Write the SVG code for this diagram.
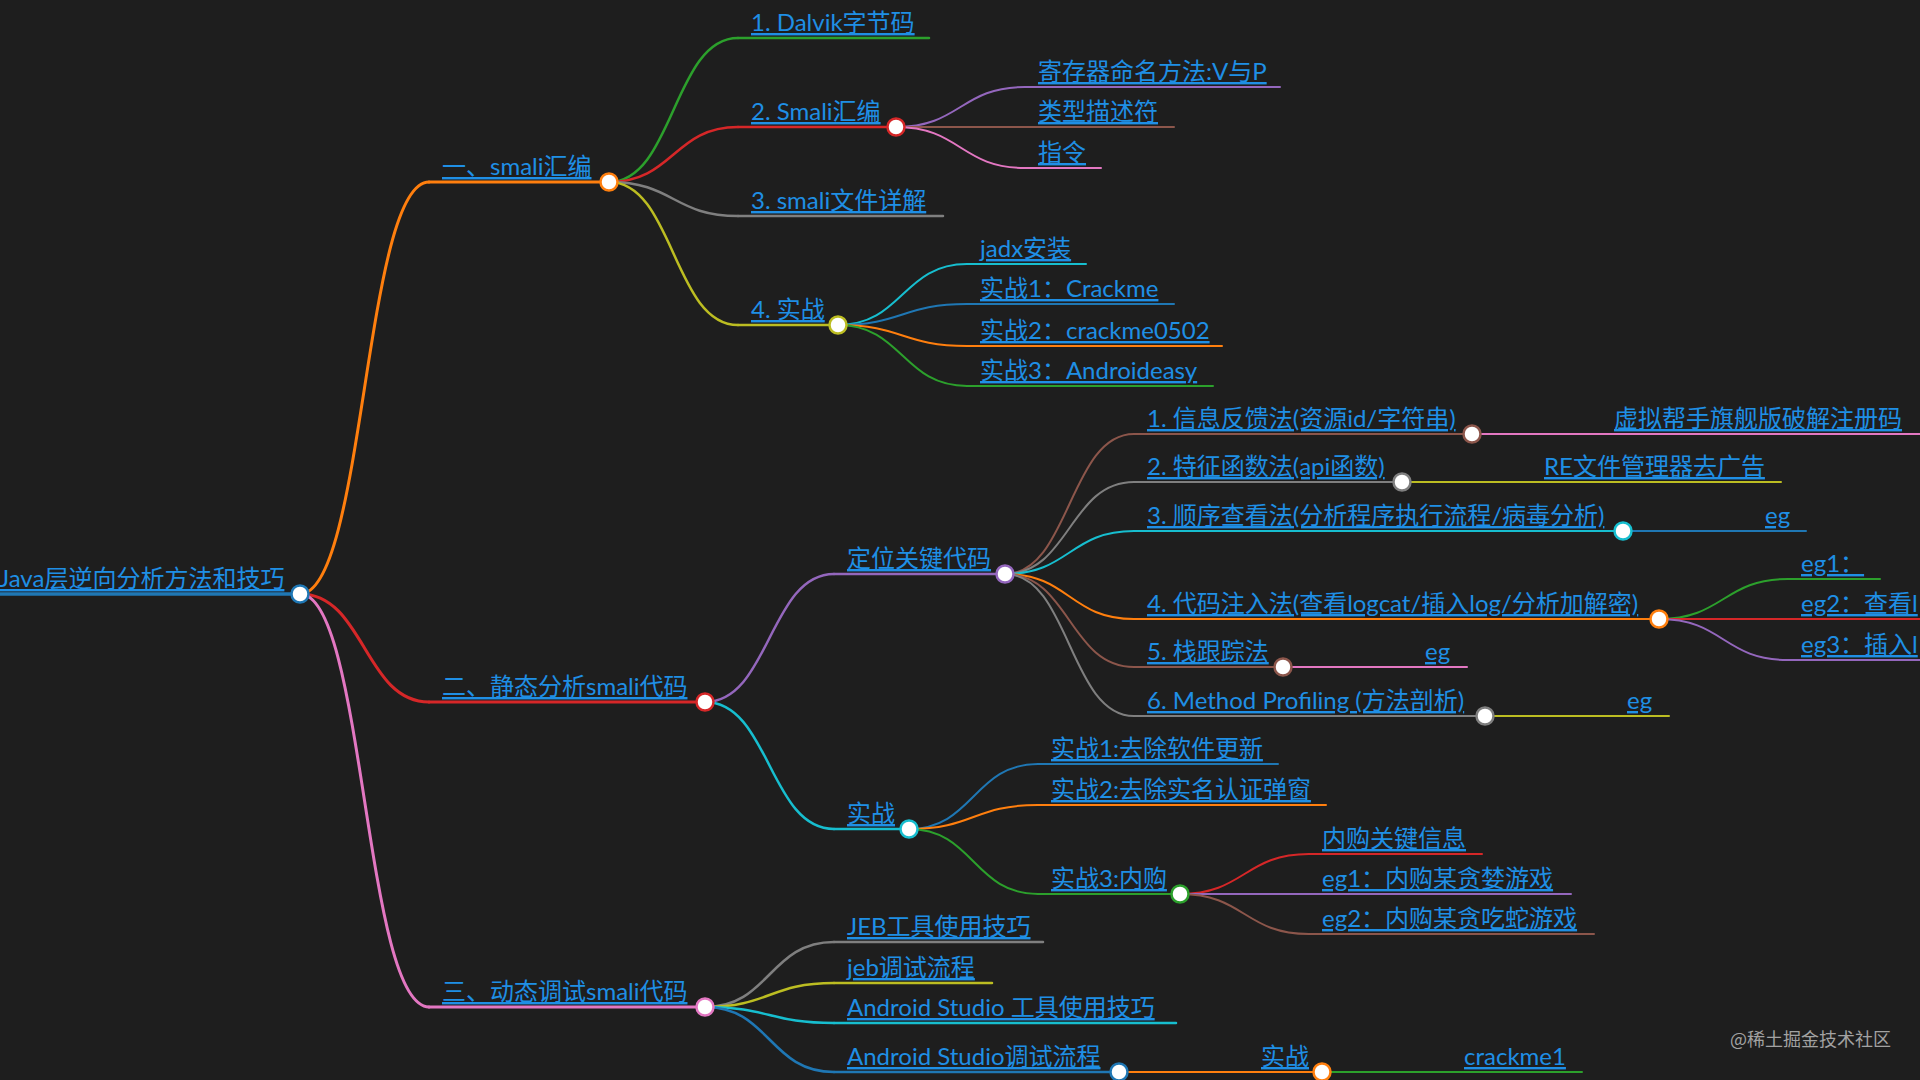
<svg xmlns="http://www.w3.org/2000/svg" width="1920" height="1080" viewBox="0 0 1920 1080">
<style>
.t{font-family:Lato,"Noto Sans CJK SC",sans-serif;font-size:24px;fill:#1f8fe5;text-decoration:underline;text-decoration-thickness:2px;text-underline-offset:3px}
.wm{font-family:"Noto Sans CJK SC",sans-serif;font-size:18px;fill:#a2a2a2}
.l{fill:none;stroke-linecap:round}
.c{fill:#fff;stroke-width:2.5}
.d0{stroke-width:3.5}.d1{stroke-width:3}.d2{stroke-width:2.5}.d3{stroke-width:2}
.blue{stroke:#1f77b4}.orange{stroke:#ff7f0e}.green{stroke:#2ca02c}.red{stroke:#d62728}.purple{stroke:#9467bd}.brown{stroke:#8c564b}.pink{stroke:#e377c2}.gray{stroke:#7f7f7f}.yellow{stroke:#bcbd22}.cyan{stroke:#17becf}
</style>
<rect width="1920" height="1080" fill="#1e1e1e"/>
<g id="connectors">
<path class="l d1 orange" d="M300,594 C364.5,594 364.5,182 429,182"/>
<path class="l d1 red" d="M300,594 C364.5,594 364.5,702 429,702"/>
<path class="l d1 pink" d="M300,594 C364.5,594 364.5,1007 429,1007"/>
<path class="l d2 green" d="M609,182 C673.5,182 673.5,38 738,38"/>
<path class="l d2 red" d="M609,182 C673.5,182 673.5,127 738,127"/>
<path class="l d2 gray" d="M609,182 C673.5,182 673.5,216 738,216"/>
<path class="l d2 yellow" d="M609,182 C673.5,182 673.5,325 738,325"/>
<path class="l d3 purple" d="M896,127 C960.5,127 960.5,87 1025,87"/>
<path class="l d3 brown" d="M896,127 C960.5,127 960.5,127 1025,127"/>
<path class="l d3 pink" d="M896,127 C960.5,127 960.5,168 1025,168"/>
<path class="l d3 cyan" d="M838,325 C902.5,325 902.5,264 967,264"/>
<path class="l d3 blue" d="M838,325 C902.5,325 902.5,304 967,304"/>
<path class="l d3 orange" d="M838,325 C902.5,325 902.5,346 967,346"/>
<path class="l d3 green" d="M838,325 C902.5,325 902.5,386 967,386"/>
<path class="l d2 purple" d="M705,702 C769.5,702 769.5,574 834,574"/>
<path class="l d2 cyan" d="M705,702 C769.5,702 769.5,829 834,829"/>
<path class="l d3 brown" d="M1005,574 C1069.5,574 1069.5,434 1134,434"/>
<path class="l d3 gray" d="M1005,574 C1069.5,574 1069.5,482 1134,482"/>
<path class="l d3 cyan" d="M1005,574 C1069.5,574 1069.5,531 1134,531"/>
<path class="l d3 orange" d="M1005,574 C1069.5,574 1069.5,619 1134,619"/>
<path class="l d3 brown" d="M1005,574 C1069.5,574 1069.5,667 1134,667"/>
<path class="l d3 gray" d="M1005,574 C1069.5,574 1069.5,716 1134,716"/>
<path class="l d3 pink" d="M1472,434 L1601,434"/>
<path class="l d3 yellow" d="M1402,482 L1531,482"/>
<path class="l d3 blue" d="M1623,531 L1752,531"/>
<path class="l d3 green" d="M1659,619 C1723.5,619 1723.5,579 1788,579"/>
<path class="l d3 red" d="M1659,619 L1788,619"/>
<path class="l d3 purple" d="M1659,619 C1723.5,619 1723.5,660 1788,660"/>
<path class="l d3 pink" d="M1283,667 L1412,667"/>
<path class="l d3 yellow" d="M1485,716 L1614,716"/>
<path class="l d3 blue" d="M909,829 C973.5,829 973.5,764 1038,764"/>
<path class="l d3 orange" d="M909,829 C973.5,829 973.5,805 1038,805"/>
<path class="l d3 green" d="M909,829 C973.5,829 973.5,894 1038,894"/>
<path class="l d3 red" d="M1180,894 C1244.5,894 1244.5,854 1309,854"/>
<path class="l d3 purple" d="M1180,894 L1309,894"/>
<path class="l d3 brown" d="M1180,894 C1244.5,894 1244.5,934 1309,934"/>
<path class="l d2 gray" d="M705,1007 C769.5,1007 769.5,942 834,942"/>
<path class="l d2 yellow" d="M705,1007 C769.5,1007 769.5,983 834,983"/>
<path class="l d2 cyan" d="M705,1007 C769.5,1007 769.5,1023 834,1023"/>
<path class="l d2 blue" d="M705,1007 C769.5,1007 769.5,1072 834,1072"/>
<path class="l d3 orange" d="M1119,1072 L1248,1072"/>
<path class="l d3 green" d="M1322,1072 L1451,1072"/>
</g>
<g id="root"><path class="l d0 blue" d="M-10,594 H300"/><text class="t" x="-1" y="587">Java层逆向分析方法和技巧</text><circle class="c blue" cx="300" cy="594" r="8.5"/></g>
<g id="n1"><path class="l d1 orange" d="M429,182 H609"/><text class="t" x="442" y="175">一、smali汇编</text><circle class="c orange" cx="609" cy="182" r="8.5"/></g>
<g id="n1-1"><path class="l d2 green" d="M738,38 H929"/><text class="t" x="751" y="31">1. Dalvik字节码</text></g>
<g id="n1-2"><path class="l d2 red" d="M738,127 H896"/><text class="t" x="751" y="120">2. Smali汇编</text><circle class="c red" cx="896" cy="127" r="8.5"/></g>
<g id="n1-2-1"><path class="l d3 purple" d="M1025,87 H1280"/><text class="t" x="1038" y="80">寄存器命名方法:V与P</text></g>
<g id="n1-2-2"><path class="l d3 brown" d="M1025,127 H1174"/><text class="t" x="1038" y="120">类型描述符</text></g>
<g id="n1-2-3"><path class="l d3 pink" d="M1025,168 H1101"/><text class="t" x="1038" y="161">指令</text></g>
<g id="n1-3"><path class="l d2 gray" d="M738,216 H943"/><text class="t" x="751" y="209">3. smali文件详解</text></g>
<g id="n1-4"><path class="l d2 yellow" d="M738,325 H838"/><text class="t" x="751" y="318">4. 实战</text><circle class="c yellow" cx="838" cy="325" r="8.5"/></g>
<g id="n1-4-1"><path class="l d3 cyan" d="M967,264 H1086"/><text class="t" x="980" y="257">jadx安装</text></g>
<g id="n1-4-2"><path class="l d3 blue" d="M967,304 H1174"/><text class="t" x="980" y="297">实战1：Crackme</text></g>
<g id="n1-4-3"><path class="l d3 orange" d="M967,346 H1222"/><text class="t" x="980" y="339">实战2：crackme0502</text></g>
<g id="n1-4-4"><path class="l d3 green" d="M967,386 H1213"/><text class="t" x="980" y="379">实战3：Androideasy</text></g>
<g id="n2"><path class="l d1 red" d="M429,702 H705"/><text class="t" x="442" y="695">二、静态分析smali代码</text><circle class="c red" cx="705" cy="702" r="8.5"/></g>
<g id="n2-1"><path class="l d2 purple" d="M834,574 H1005"/><text class="t" x="847" y="567">定位关键代码</text><circle class="c purple" cx="1005" cy="574" r="8.5"/></g>
<g id="n2-1-1"><path class="l d3 brown" d="M1134,434 H1472"/><text class="t" x="1147" y="427">1. 信息反馈法(资源id/字符串)</text><circle class="c brown" cx="1472" cy="434" r="8.5"/></g>
<g id="n2-1-1-1"><path class="l d3 pink" d="M1601,434 H1930"/><text class="t" x="1614" y="427">虚拟帮手旗舰版破解注册码</text></g>
<g id="n2-1-2"><path class="l d3 gray" d="M1134,482 H1402"/><text class="t" x="1147" y="475">2. 特征函数法(api函数)</text><circle class="c gray" cx="1402" cy="482" r="8.5"/></g>
<g id="n2-1-2-1"><path class="l d3 yellow" d="M1531,482 H1781"/><text class="t" x="1544" y="475">RE文件管理器去广告</text></g>
<g id="n2-1-3"><path class="l d3 cyan" d="M1134,531 H1623"/><text class="t" x="1147" y="524">3. 顺序查看法(分析程序执行流程/病毒分析)</text><circle class="c cyan" cx="1623" cy="531" r="8.5"/></g>
<g id="n2-1-3-1"><path class="l d3 blue" d="M1752,531 H1806"/><text class="t" x="1765" y="524">eg</text></g>
<g id="n2-1-4"><path class="l d3 orange" d="M1134,619 H1659"/><text class="t" x="1147" y="612">4. 代码注入法(查看logcat/插入log/分析加解密)</text><circle class="c orange" cx="1659" cy="619" r="8.5"/></g>
<g id="n2-1-4-1"><path class="l d3 green" d="M1788,579 H1880"/><text class="t" x="1801" y="572">eg1：</text></g>
<g id="n2-1-4-2"><path class="l d3 red" d="M1788,619 H1930"/><text class="t" x="1801" y="612">eg2：查看l</text></g>
<g id="n2-1-4-3"><path class="l d3 purple" d="M1788,660 H1930"/><text class="t" x="1801" y="653">eg3：插入l</text></g>
<g id="n2-1-5"><path class="l d3 brown" d="M1134,667 H1283"/><text class="t" x="1147" y="660">5. 栈跟踪法</text><circle class="c brown" cx="1283" cy="667" r="8.5"/></g>
<g id="n2-1-5-1"><path class="l d3 pink" d="M1412,667 H1467"/><text class="t" x="1425" y="660">eg</text></g>
<g id="n2-1-6"><path class="l d3 gray" d="M1134,716 H1485"/><text class="t" x="1147" y="709">6. Method Profiling (方法剖析)</text><circle class="c gray" cx="1485" cy="716" r="8.5"/></g>
<g id="n2-1-6-1"><path class="l d3 yellow" d="M1614,716 H1669"/><text class="t" x="1627" y="709">eg</text></g>
<g id="n2-2"><path class="l d2 cyan" d="M834,829 H909"/><text class="t" x="847" y="822">实战</text><circle class="c cyan" cx="909" cy="829" r="8.5"/></g>
<g id="n2-2-1"><path class="l d3 blue" d="M1038,764 H1278"/><text class="t" x="1051" y="757">实战1:去除软件更新</text></g>
<g id="n2-2-2"><path class="l d3 orange" d="M1038,805 H1326"/><text class="t" x="1051" y="798">实战2:去除实名认证弹窗</text></g>
<g id="n2-2-3"><path class="l d3 green" d="M1038,894 H1180"/><text class="t" x="1051" y="887">实战3:内购</text><circle class="c green" cx="1180" cy="894" r="8.5"/></g>
<g id="n2-2-3-1"><path class="l d3 red" d="M1309,854 H1482"/><text class="t" x="1322" y="847">内购关键信息</text></g>
<g id="n2-2-3-2"><path class="l d3 purple" d="M1309,894 H1571"/><text class="t" x="1322" y="887">eg1：内购某贪婪游戏</text></g>
<g id="n2-2-3-3"><path class="l d3 brown" d="M1309,934 H1594"/><text class="t" x="1322" y="927">eg2：内购某贪吃蛇游戏</text></g>
<g id="n3"><path class="l d1 pink" d="M429,1007 H705"/><text class="t" x="442" y="1000">三、动态调试smali代码</text><circle class="c pink" cx="705" cy="1007" r="8.5"/></g>
<g id="n3-1"><path class="l d2 gray" d="M834,942 H1043"/><text class="t" x="847" y="935">JEB工具使用技巧</text></g>
<g id="n3-2"><path class="l d2 yellow" d="M834,983 H992"/><text class="t" x="847" y="976">jeb调试流程</text></g>
<g id="n3-3"><path class="l d2 cyan" d="M834,1023 H1176"/><text class="t" x="847" y="1016">Android Studio 工具使用技巧</text></g>
<g id="n3-4"><path class="l d2 blue" d="M834,1072 H1119"/><text class="t" x="847" y="1065">Android Studio调试流程</text><circle class="c blue" cx="1119" cy="1072" r="8.5"/></g>
<g id="n3-4-1"><path class="l d3 orange" d="M1248,1072 H1322"/><text class="t" x="1261" y="1065">实战</text><circle class="c orange" cx="1322" cy="1072" r="8.5"/></g>
<g id="n3-4-1-1"><path class="l d3 green" d="M1451,1072 H1582"/><text class="t" x="1464" y="1065">crackme1</text></g>
<text class="wm" x="1730" y="1046">@稀土掘金技术社区</text>
</svg>
